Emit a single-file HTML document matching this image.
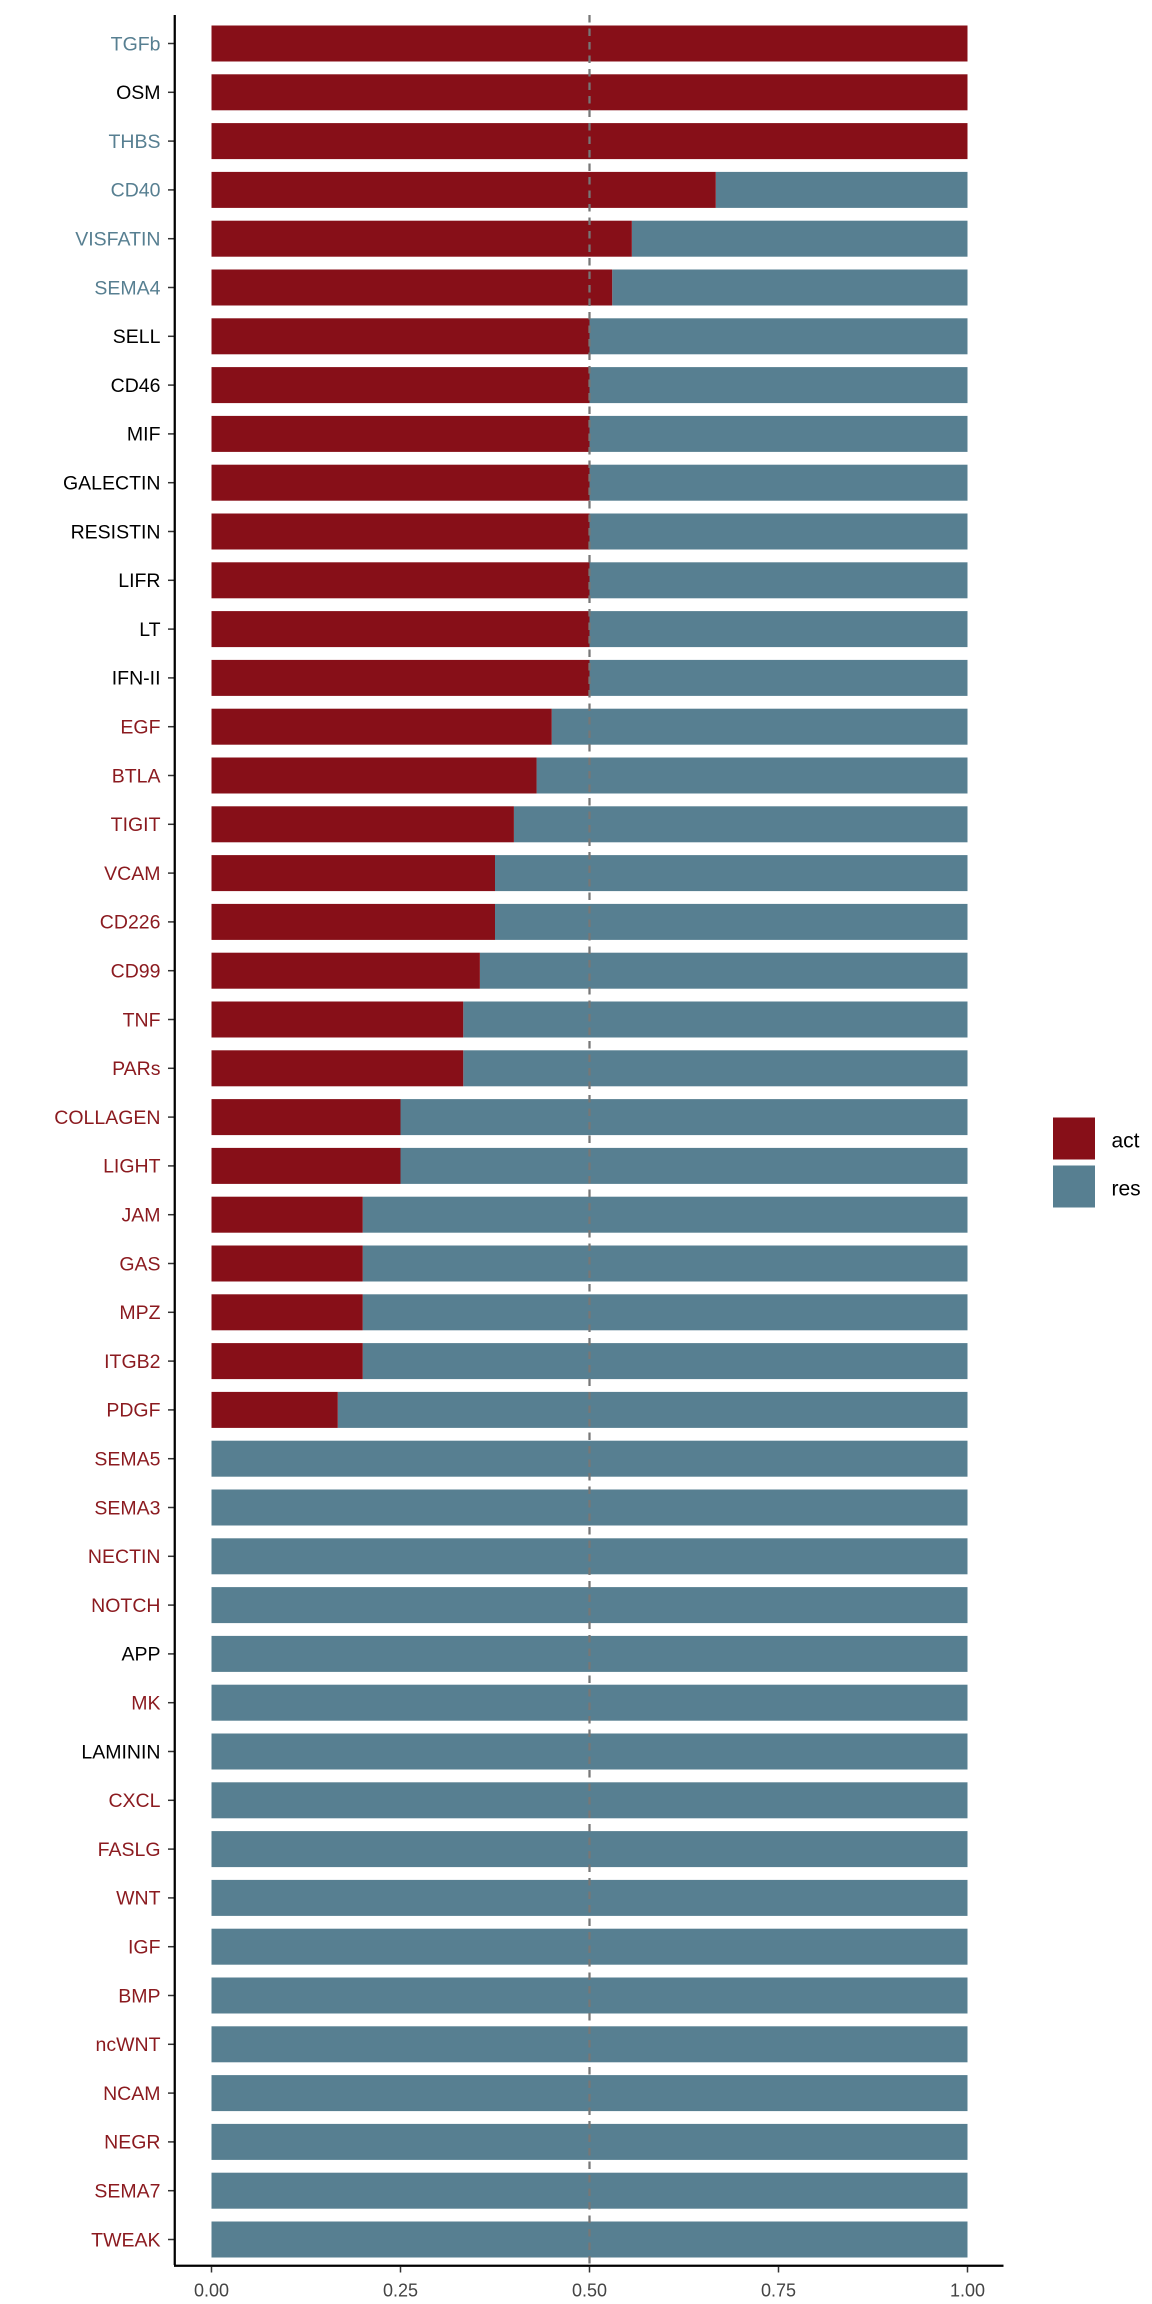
<!DOCTYPE html>
<html><head><meta charset="utf-8"><style>
html,body{margin:0;padding:0;background:#fff;}
svg{display:block;font-family:"Liberation Sans",Arial,sans-serif;}
</style></head><body>
<svg id="chart" width="1152" height="2304" viewBox="0 0 768 1536" xmlns="http://www.w3.org/2000/svg">
<rect width="768" height="1536" fill="#fff"/>
<g id="bars"></g>
<g id="labels"></g>
<line id="mid" y1="10" y2="1510" stroke="#777" stroke-width="1.5" stroke-dasharray="5,4"/>
<line x1="116.5" y1="10" x2="116.5" y2="1510" stroke="#000" stroke-width="1.5"/>
<line x1="116" y1="1510.5" x2="669" y2="1510.5" stroke="#000" stroke-width="1.5"/>
<g id="xticks"></g>
<text x="393" y="1553" font-size="18" text-anchor="middle">Relative number of interactions</text>
<g>
<rect x="702" y="745" width="28" height="28" fill="#870f18"/>
<text x="741" y="765" font-size="14">act</text>
<rect x="702" y="777" width="28" height="28" fill="#577f91"/>
<text x="741" y="797" font-size="14">res</text>
</g>
</svg>
<script>
const categories=["TGFb","OSM","THBS","CD40","VISFATIN","SEMA4","SELL","CD46","MIF","GALECTIN","RESISTIN","LIFR","LT","IFN-II","EGF","BTLA","TIGIT","VCAM","CD226","CD99","TNF","PARs","COLLAGEN","LIGHT","JAM","GAS","MPZ","ITGB2","PDGF","SEMA5","SEMA3","NECTIN","NOTCH","APP","MK","LAMININ","CXCL","FASLG","WNT","IGF","BMP","ncWNT","NCAM","NEGR","SEMA7","TWEAK"];
const actValues=[1,1,1,0.667,0.556,0.53,0.5,0.5,0.5,0.5,0.5,0.5,0.5,0.5,0.45,0.43,0.4,0.375,0.375,0.355,0.333,0.333,0.25,0.25,0.2,0.2,0.2,0.2,0.167,0,0,0,0,0,0,0,0,0,0,0,0,0,0,0,0,0];
const labelGroups=["res","act","res","res","res","res","act","act","act","act","act","act","act","act","red","red","red","red","red","red","red","red","red","red","red","red","red","red","red","red","red","red","red","act","red","act","red","red","red","red","red","red","red","red","red","red"];
const tickValues=[0,0.25,0.5,0.75,1];
const tickLabels=["0.00","0.25","0.50","0.75","1.00"];
const NS="http://www.w3.org/2000/svg";
const xs=v=>141+v*504;
const ys=i=>29+i*(1493-29)/45;
const colorMap={res:"#577f91",act:"#000",red:"#8b1a1f"};
const bars=document.getElementById('bars'),labels=document.getElementById('labels'),xt=document.getElementById('xticks');
categories.forEach((c,i)=>{
 const y=ys(i)-12,a=actValues[i];
 const r1=document.createElementNS(NS,'rect');
 
 
 r1.setAttribute('x',xs(a));r1.setAttribute('y',y);r1.setAttribute('width',xs(1)-xs(a));r1.setAttribute('height',24);r1.setAttribute('fill','#577f91');
 bars.appendChild(r1);
 const r2=document.createElementNS(NS,'rect');
 
 
 r2.setAttribute('x',xs(0));r2.setAttribute('y',y);r2.setAttribute('width',xs(a)-xs(0));r2.setAttribute('height',24);r2.setAttribute('fill','#870f18');
 bars.appendChild(r2);
 const t=document.createElementNS(NS,'text');
 
 
 t.setAttribute('x',107);t.setAttribute('y',ys(i)+4.5);t.setAttribute('text-anchor','end');t.setAttribute('font-size','13');t.setAttribute('fill',colorMap[labelGroups[i]]);
 t.textContent=c;labels.appendChild(t);
 const tk=document.createElementNS(NS,'line');
 
 
 tk.setAttribute('x1',112);tk.setAttribute('x2',116);tk.setAttribute('y1',ys(i));tk.setAttribute('y2',ys(i));tk.setAttribute('stroke','#333');
 labels.appendChild(tk);
});
const mid=document.getElementById('mid');mid.setAttribute('x1',xs(0.5));mid.setAttribute('x2',xs(0.5));
tickValues.forEach((v,i)=>{
 const l=document.createElementNS(NS,'line');
 
 
 l.setAttribute('x1',xs(v));l.setAttribute('x2',xs(v));l.setAttribute('y1',1511);l.setAttribute('y2',1515);l.setAttribute('stroke','#333');
 xt.appendChild(l);
 const t=document.createElementNS(NS,'text');
 
 
 t.setAttribute('x',xs(v));t.setAttribute('y',1531);t.setAttribute('text-anchor','middle');t.setAttribute('font-size','12');t.setAttribute('fill','#444');
 t.textContent=tickLabels[i];xt.appendChild(t);
});
</script>
</body></html>
